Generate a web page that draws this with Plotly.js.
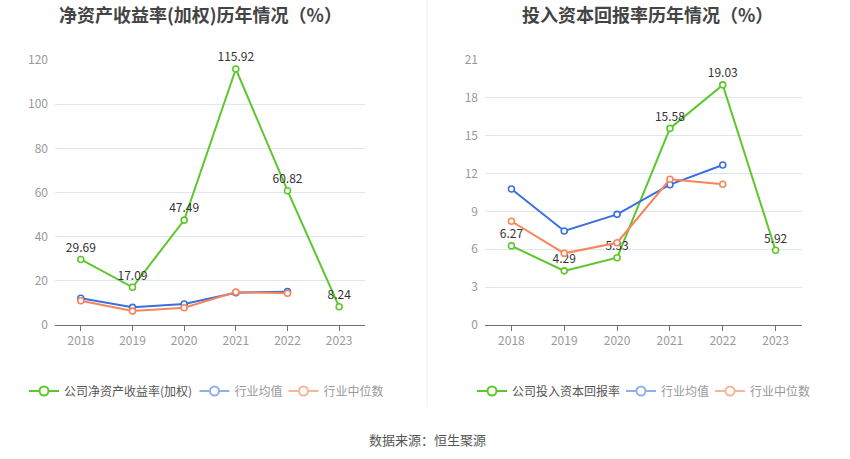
<!DOCTYPE html>
<html><head><meta charset="utf-8">
<script src="https://cdn.plot.ly/plotly-3.0.1.min.js"></script>
<style>body{margin:0;background:#fff}</style></head>
<body><div id="c" style="width:850px;height:459px"></div>
<script>
const years=['2018','2019','2020','2021','2022','2023'];
const industryYears=['2018','2019','2020','2021','2022'];
const roeCompany=[29.69,17.09,47.49,115.92,60.82,8.24];
const roeIndustryAvg=[12.1,8.0,9.5,14.6,15.1];
const roeIndustryMedian=[11.0,6.3,7.8,14.9,14.4];
const roicCompany=[6.27,4.29,5.33,15.58,19.03,5.92];
const roicIndustryAvg=[10.78,7.45,8.77,11.12,12.68];
const roicIndustryMedian=[8.22,5.68,6.52,11.55,11.15];
const roeTicks=[0,20,40,60,80,100,120];
const roicTicks=[0,3,6,9,12,15,18,21];

const F='"Noto Sans CJK SC", "Noto Sans", sans-serif';
const GREEN='#5cc72a', BLUE='#3a6fe0', ORANGE='#f7845a';
const GREEN_L='#5cc72a', BLUE_L='#8fb0f0', ORANGE_L='#f9b49a';

function line(x,y,color,xa,ya,label){
  return {x:x,y:y,xaxis:xa,yaxis:ya,type:'scatter',mode:label?'lines+markers+text':'lines+markers',
    line:{color:color,width:2},marker:{symbol:'circle',size:6,color:'#fff',line:{color:color,width:1.6}},
    texttemplate:label?'%{y:.2f}':undefined,textposition:'top center',
    textfont:{family:F,size:12,color:'#333'},showlegend:false,cliponaxis:false,hoverinfo:'x+y'};
}
function leg(name,color,lg){
  return {x:[null],y:[null],type:'scatter',mode:'lines+markers',name:name,legend:lg,
    line:{color:color,width:2},marker:{symbol:'circle',size:9,color:'#fff',line:{color:color,width:2}},showlegend:true};
}
const data=[
  line(years,roeCompany,GREEN,'x','y',true),
  line(industryYears,roeIndustryAvg,BLUE,'x','y',false),
  line(industryYears,roeIndustryMedian,ORANGE,'x','y',false),
  line(years,roicCompany,GREEN,'x2','y2',true),
  line(industryYears,roicIndustryAvg,BLUE,'x2','y2',false),
  line(industryYears,roicIndustryMedian,ORANGE,'x2','y2',false),
  leg('公司净资产收益率(加权)',GREEN_L,'legend'),
  leg('行业均值',BLUE_L,'legend2'),
  leg('行业中位数',ORANGE_L,'legend3'),
  leg('公司投入资本回报率',GREEN_L,'legend4'),
  leg('行业均值',BLUE_L,'legend5'),
  leg('行业中位数',ORANGE_L,'legend6')
];
const yDom=[(459-325)/459,(459-60)/459];
function xax(dom){return {domain:dom,type:'category',range:[-0.5,5.5],showgrid:false,showline:true,linecolor:'#6e7079',linewidth:1,
  ticks:'outside',ticklen:5,tickcolor:'#6e7079',tickfont:{family:F,size:12,color:'#999'},fixedrange:true,zeroline:false};}
function yax(ticks,max,anchor){return {domain:yDom,range:[0,max],tickvals:ticks,showgrid:true,gridcolor:'#e0e6f1',gridwidth:1,
  showline:false,zeroline:false,ticks:'',ticklabelstandoff:6,tickfont:{family:F,size:12,color:'#999'},anchor:anchor};}
function lg(x,color){return {orientation:'h',x:x/850,y:(459-391)/459,xanchor:'left',yanchor:'middle',
  font:{family:F,size:12,color:color},itemwidth:30,bgcolor:'rgba(0,0,0,0)',borderwidth:0};}
const layout={
  width:850,height:459,margin:{l:0,r:0,t:0,b:0},paper_bgcolor:'#fff',plot_bgcolor:'rgba(0,0,0,0)',
  font:{family:F},
  xaxis:Object.assign(xax([55/850,365/850]),{anchor:'y'}),
  yaxis:yax(roeTicks,120,'x'),
  xaxis2:Object.assign(xax([485/850,802/850]),{anchor:'y2'}),
  yaxis2:yax(roicTicks,21,'x2'),
  legend:lg(24,'#555'),
  legend2:lg(194.5,'#999'),
  legend3:lg(283.5,'#999'),
  legend4:lg(472,'#555'),
  legend5:lg(621,'#999'),
  legend6:lg(710,'#999'),
  shapes:[{type:'line',xref:'paper',yref:'paper',x0:427/850,x1:427/850,y0:(459-407)/459,y1:1,line:{color:'#eeeeee',width:1}}],
  annotations:[
    {text:'净资产收益率(加权)历年情况（%）',xref:'paper',yref:'paper',x:200/850,y:(459-14)/459,xanchor:'center',yanchor:'middle',showarrow:false,font:{family:F,size:18,color:'#444',weight:'bold'}},
    {text:'投入资本回报率历年情况（%）',xref:'paper',yref:'paper',x:647/850,y:(459-14)/459,xanchor:'center',yanchor:'middle',showarrow:false,font:{family:F,size:18,color:'#444',weight:'bold'}},
    {text:'数据来源：恒生聚源',xref:'paper',yref:'paper',x:427/850,y:(459-439)/459,xanchor:'center',yanchor:'middle',showarrow:false,font:{family:F,size:13,color:'#555'}}
  ]
};
Plotly.newPlot('c',data,layout,{displayModeBar:false,staticPlot:true});
</script></body></html>
